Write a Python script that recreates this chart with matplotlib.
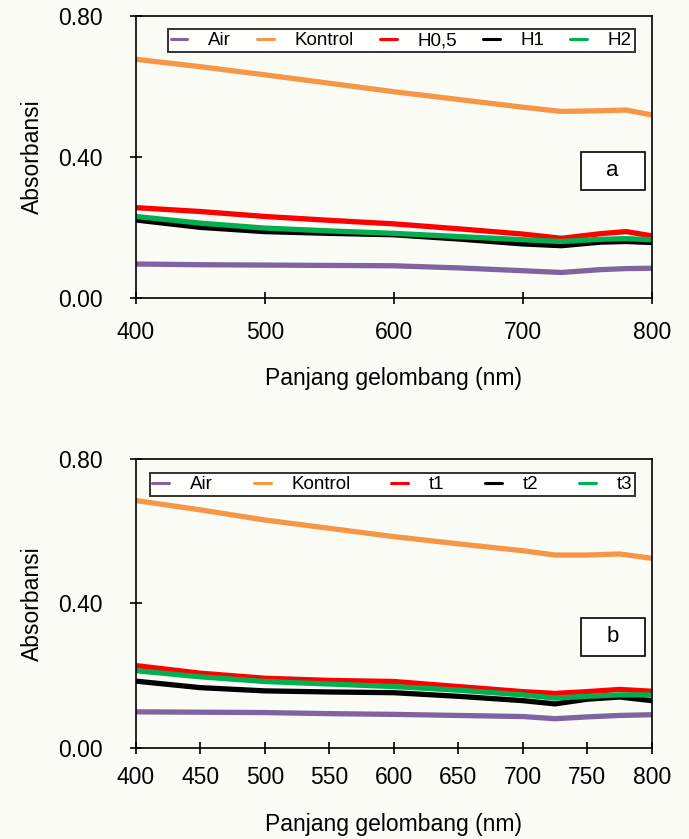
import matplotlib.pyplot as plt
from matplotlib.patches import Rectangle

plt.rcParams['font.family'] = ['Liberation Sans', 'DejaVu Sans']

# panel a
wl_a = [400, 450, 500, 550, 600, 650, 700, 730, 760, 780, 800]
air_a = [0.096, 0.094, 0.093, 0.092, 0.091, 0.085, 0.077, 0.072, 0.080, 0.083, 0.084]
kontrol_a = [0.677, 0.656, 0.633, 0.609, 0.585, 0.563, 0.541, 0.529, 0.531, 0.533, 0.519]
h05 = [0.256, 0.245, 0.231, 0.220, 0.210, 0.196, 0.181, 0.169, 0.182, 0.188, 0.176]
h1 = [0.221, 0.200, 0.188, 0.183, 0.179, 0.167, 0.153, 0.148, 0.158, 0.160, 0.157]
h2 = [0.231, 0.212, 0.198, 0.190, 0.183, 0.174, 0.165, 0.160, 0.166, 0.168, 0.165]
labels_a = ['Air', 'Kontrol', 'H0,5', 'H1', 'H2']

# panel b
wl_b = [400, 450, 500, 550, 600, 650, 700, 725, 750, 775, 800]
air_b = [0.100, 0.099, 0.098, 0.095, 0.093, 0.090, 0.087, 0.081, 0.086, 0.090, 0.092]
kontrol_b = [0.685, 0.659, 0.631, 0.608, 0.585, 0.565, 0.546, 0.534, 0.534, 0.537, 0.525]
t1 = [0.228, 0.207, 0.193, 0.187, 0.184, 0.170, 0.156, 0.151, 0.156, 0.162, 0.157]
t2 = [0.185, 0.167, 0.158, 0.155, 0.153, 0.143, 0.131, 0.122, 0.135, 0.141, 0.131]
t3 = [0.214, 0.197, 0.184, 0.177, 0.170, 0.160, 0.147, 0.138, 0.143, 0.147, 0.147]
labels_b = ['Air', 'Kontrol', 't1', 't2', 't3']

colors = ['#8064a2', '#f79646', '#ff0000', '#000000', '#00b050']

fig = plt.figure(figsize=(6.89, 8.39), dpi=100, facecolor='#fcfcf7')
ax_a = fig.add_axes([0.197, 0.645, 0.749, 0.336])
ax_b = fig.add_axes([0.197, 0.1085, 0.749, 0.3445])


def draw(ax, wl, series, labels, xticks, tag, leg_box, tag_box, xpad, xlabpad):
    ax.set_facecolor('none')
    for y, lab, c in zip(series, labels, colors):
        ax.plot(wl, y, color=c, lw=3.8, label=lab, solid_joinstyle='round',
                solid_capstyle='round')
    ax.set_xlim(400, 800)
    ax.set_ylim(0, 0.8)
    ax.set_xticks(xticks)
    ax.set_yticks([0, 0.4, 0.8])
    ax.set_yticklabels(['0.00', '0.40', '0.80'])
    ax.tick_params(direction='inout', length=8, width=1.2, labelsize=16.5)
    ax.tick_params(axis='x', pad=xpad)
    ax.tick_params(axis='y', pad=20)
    for s in ax.spines.values():
        s.set_linewidth(1.2)
    ax.set_xlabel('Panjang gelombang (nm)', fontsize=16.5, labelpad=xlabpad)
    ax.set_ylabel('Absorbansi', fontsize=16.5, labelpad=10)
    leg = ax.legend(ncol=5, mode='expand', bbox_to_anchor=leg_box, loc='lower left',
                    borderaxespad=0, fontsize=13.5, handlelength=0.9, handletextpad=1.1,
                    fancybox=False, frameon=True, borderpad=0.15)
    leg.get_frame().set_edgecolor('black')
    leg.get_frame().set_linewidth(1.4)
    for h in leg.get_lines():
        h.set_linewidth(2.2)
    x0, y0, w, h = tag_box
    ax.add_patch(Rectangle((x0, y0), w, h, transform=ax.transAxes, fc='white',
                           ec='black', lw=1.2, zorder=3))
    ax.text(x0 + w / 2, y0 + h / 2, tag, transform=ax.transAxes, ha='center',
            va='center', fontsize=16, zorder=4)


draw(ax_a, wl_a, [air_a, kontrol_a, h05, h1, h2], labels_a,
     [400, 500, 600, 700, 800], 'a', (0.062, 0.872, 0.905, 0.078),
     (0.862, 0.383, 0.124, 0.135), 13, 16)
draw(ax_b, wl_b, [air_b, kontrol_b, t1, t2, t3], labels_b,
     [400, 450, 500, 550, 600, 650, 700, 750, 800], 'b', (0.027, 0.872, 0.94, 0.1),
     (0.862, 0.318, 0.124, 0.132), 9, 17)

fig.savefig('out.png', dpi=100, facecolor=fig.get_facecolor())
